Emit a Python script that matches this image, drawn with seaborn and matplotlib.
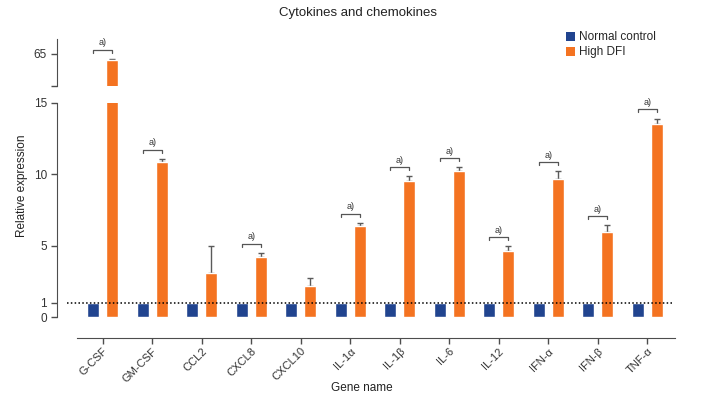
import numpy as np
import pandas as pd
import matplotlib
matplotlib.use("Agg")
import matplotlib.pyplot as plt
from matplotlib.patches import Patch
import seaborn as sns

genes = ["G-CSF", "GM-CSF", "CCL2", "CXCL8", "CXCL10", "IL-1α", "IL-1β",
         "IL-6", "IL-12", "IFN-α", "IFN-β", "TNF-α"]
normal_vals = [1, 1, 1, 1, 1, 1, 1, 1, 1, 1, 1, 1]
dfi_vals = [64.6, 10.82, 3.07, 4.23, 2.21, 6.37, 9.56, 10.23, 4.65, 9.65, 5.97, 13.51]
dfi_err = [0.05, 0.23, 1.88, 0.24, 0.53, 0.21, 0.28, 0.24, 0.30, 0.54, 0.45, 0.38]
signif = [True, True, False, True, False, True, True, True, True, True, True, True]
groups = ["Normal control", "High DFI"]
colors = ["#21448f", "#f47321"]

df = pd.DataFrame({
    "gene": genes * 2,
    "value": normal_vals + dfi_vals,
    "group": [groups[0]] * len(genes) + [groups[1]] * len(genes),
})

sns.set_style("white")
plt.rcParams["font.family"] = ["Liberation Sans Narrow", "Liberation Sans", "DejaVu Sans"]
axis_col = "#4d4d4d"

fig = plt.figure(figsize=(7.06, 4.03), dpi=100)
ax_lo = fig.add_axes([0.1091, 0.1620, 0.847, 0.5832])
ax_hi = fig.add_axes([0.1091, 0.7866, 0.847, 0.1159])

lo_lim = (-1.43, 15)
hi_lim = (62.75, 66.03)
xlim = (-0.52, 11.56)
off = 0.19

for ax in (ax_lo, ax_hi):
    sns.barplot(data=df, x="gene", y="value", hue="group", hue_order=groups,
                palette=colors, saturation=1, width=0.76, gap=0.37,
                errorbar=None, legend=False, ax=ax, zorder=2)
    xs = np.arange(len(genes)) + off
    ax.errorbar(xs, dfi_vals, yerr=[np.zeros(len(genes)), dfi_err], fmt="none",
                ecolor="#5a5a5a", elinewidth=1, capsize=2.5, capthick=1, zorder=1)
    ax.set_xlim(*xlim)
    ax.set_xlabel("")
    ax.set_ylabel("")
    for s in ("top", "right"):
        ax.spines[s].set_visible(False)
    ax.spines["left"].set_position(("outward", 14.6))
    ax.spines["left"].set_color(axis_col)
    ax.tick_params(axis="y", length=4, width=1, color=axis_col, labelsize=8.5,
                   labelcolor="#333333", pad=3, left=True)

ax_lo.set_ylim(*lo_lim)
ax_lo.spines["left"].set_bounds(0, 15)
ax_lo.set_yticks([0, 1, 5, 10, 15])
ax_lo.spines["bottom"].set_color(axis_col)
ax_lo.tick_params(axis="x", length=4, width=1, color=axis_col, labelsize=8,
                  labelcolor="#333333", bottom=True, pad=2)
ax_lo.set_xticks(range(len(genes)))
ax_lo.set_xticklabels(genes, rotation=45, ha="right", rotation_mode="anchor")

ax_hi.set_ylim(*hi_lim)
ax_hi.spines["bottom"].set_visible(False)
ax_hi.set_yticks([hi_lim[0] + 0.02, 65])
ax_hi.set_yticklabels(["", "65"])
ax_hi.tick_params(axis="x", bottom=False, labelbottom=False)

# dotted reference line at 1
ax_lo.plot([-0.72, 11.52], [1, 1], ls=(0, (1, 1.5)), color="black", lw=1.1,
           clip_on=False, zorder=3)

# significance brackets
for i, (v, e, s) in enumerate(zip(dfi_vals, dfi_err, signif)):
    if not s:
        continue
    ax = ax_hi if v > 15 else ax_lo
    yb = v + e + 0.65
    ax.plot([i - off, i - off, i + off, i + off], [yb - 0.2, yb, yb, yb - 0.2],
            color="#555555", lw=0.9, clip_on=False)
    ax.text(i, yb + 0.18, "a)", ha="center", va="bottom", fontsize=6.5,
            color="#333333", clip_on=False)

fig.text(358 / 706, 1 - 13 / 403, "Cytokines and chemokines", ha="center",
         va="center", fontsize=9.5, color="#222222")
fig.text(21.7 / 706, 1 - 186 / 403, "Relative expression", rotation=90,
         ha="center", va="center", fontsize=8.5, color="#222222")
fig.text(362 / 706, 1 - 388 / 403, "Gene name", ha="center", va="center",
         fontsize=8.5, color="#222222")

handles = [Patch(facecolor=c, edgecolor="none") for c in colors]
fig.legend(handles, groups, loc="upper left", bbox_to_anchor=(0.802, 0.922),
           frameon=False, fontsize=8.5, handlelength=0.75, handleheight=0.75,
           handletextpad=0.35, labelspacing=0.25, borderpad=0, borderaxespad=0)

fig.savefig("out.png", dpi=100)
